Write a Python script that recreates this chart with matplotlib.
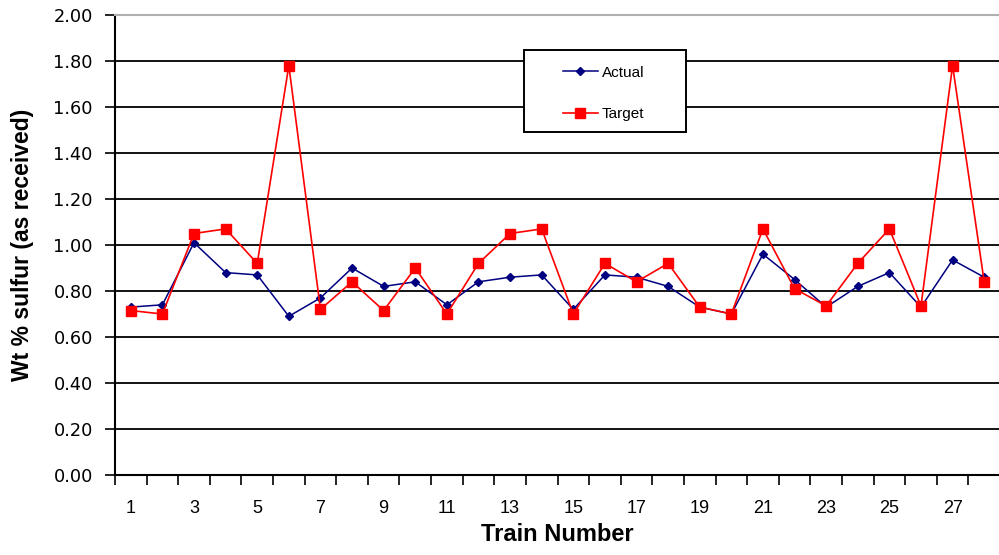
import matplotlib
matplotlib.use("Agg")
import matplotlib.pyplot as plt
from matplotlib import font_manager
from matplotlib.patches import Rectangle
from matplotlib.ticker import FixedLocator, NullFormatter, FixedFormatter

# Sulfur content per train
trains = list(range(1, 29))
actual = [0.73, 0.74, 1.01, 0.88, 0.87, 0.69, 0.77, 0.90, 0.82, 0.84,
          0.74, 0.84, 0.86, 0.87, 0.72, 0.87, 0.86, 0.82, 0.73, 0.70,
          0.96, 0.85, 0.73, 0.82, 0.88, 0.73, 0.935, 0.86]
target = [0.715, 0.70, 1.05, 1.07, 0.92, 1.78, 0.72, 0.84, 0.715, 0.90,
          0.70, 0.92, 1.05, 1.07, 0.70, 0.92, 0.84, 0.92, 0.73, 0.70,
          1.07, 0.81, 0.735, 0.92, 1.07, 0.735, 1.78, 0.84]
y_ticks = [0.0, 0.2, 0.4, 0.6, 0.8, 1.0, 1.2, 1.4, 1.6, 1.8, 2.0]
x_labels = [str(n) for n in range(1, 28, 2)]

names = {f.name for f in font_manager.fontManager.ttflist}
base = "Liberation Sans" if "Liberation Sans" in names else "DejaVu Sans"
plt.rcParams["font.family"] = [base, "DejaVu Sans"]

fig = plt.figure(figsize=(9.99, 5.55), dpi=100)
ax = fig.add_axes([115 / 999, 80 / 555, 885 / 999, 460 / 555])

ax.plot(trains, actual, color="#000080", lw=1.1, marker="D", ms=4.5,
        label="Actual", zorder=3)
ax.plot(trains, target, color="#FF0000", lw=1.2, marker="s", ms=6.5,
        label="Target", zorder=4)

ax.set_xlim(0.5, 28.5)
ax.set_ylim(0, 2.0)

# y axis
ax.set_yticks(y_ticks)
ax.set_yticklabels([f"{v:.2f}" for v in y_ticks], fontsize=12.8,
                   family="DejaVu Sans")
ax.tick_params(axis="y", direction="out", length=7, width=1.2, pad=9,
               colors="black")
ax.yaxis.grid(True, color="black", lw=1.3)
ax.get_ygridlines()[-1].set_visible(False)
ax.set_axisbelow(True)

# x axis: tick marks between categories, labels on odd trains
ax.xaxis.set_major_locator(FixedLocator([i + 0.5 for i in range(0, 29)]))
ax.xaxis.set_major_formatter(NullFormatter())
ax.xaxis.set_minor_locator(FixedLocator(list(range(1, 28, 2))))
ax.xaxis.set_minor_formatter(FixedFormatter(x_labels))
ax.tick_params(axis="x", which="major", direction="out", length=7, width=1.2)
ax.tick_params(axis="x", which="minor", length=0, pad=18, labelsize=13)

for s in ["left", "bottom"]:
    ax.spines[s].set_linewidth(1.5)
ax.spines["right"].set_visible(False)
ax.spines["top"].set_color("#b0b0b0")
ax.spines["top"].set_linewidth(1.5)

ax.set_xlabel("Train Number", fontsize=17, fontweight="bold", labelpad=4)
ax.set_ylabel("Wt % sulfur (as received)", fontsize=16.5, fontweight="bold",
              labelpad=14)

# legend box
bx0 = (524 - 115) / 885
by0 = (475 - 132) / 460
bw = (686 - 524) / 885
bh = (132 - 50) / 460
ax.add_patch(Rectangle((bx0, by0), bw, bh, transform=ax.transAxes,
                       facecolor="white", edgecolor="black", lw=1.4,
                       zorder=5))
leg = ax.legend(loc="upper left",
                bbox_to_anchor=((552 - 115) / 885, (475 - 55) / 460),
                frameon=False, fontsize=11, handlelength=2.3,
                handletextpad=0.25, labelspacing=1.8, borderpad=0.2)
leg.set_zorder(6)

fig.savefig("out.png", dpi=100)
